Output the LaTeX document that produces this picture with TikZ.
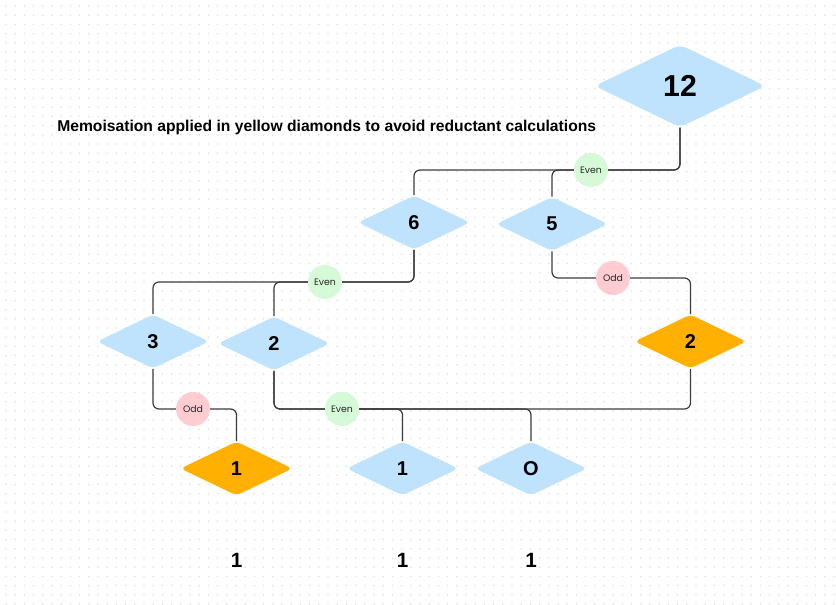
\documentclass[tikz,border=0pt]{standalone}
\usepackage{fontspec}
\setmainfont{Liberation Sans}
\newfontfamily\lblfont{Poppins}
\usetikzlibrary{shapes.geometric}
\definecolor{dbblue}{RGB}{191,227,253}
\definecolor{dborange}{RGB}{255,176,0}
\definecolor{dbgreen}{RGB}{214,250,216}
\definecolor{dbpink}{RGB}{255,204,209}
\definecolor{dbline}{RGB}{60,60,60}
\definecolor{dbdot}{RGB}{224,224,228}
\tikzset{
  dia/.style={diamond, draw=none, inner sep=0pt, rounded corners=4pt,
    minimum width=84pt, minimum height=40.5pt,
    font=\bfseries\fontsize{15}{18}\selectfont},
  bluedia/.style={dia, fill=dbblue},
  orangedia/.style={dia, fill=dborange},
  conn/.style={draw=dbline, line width=0.9pt, rounded corners=4.5pt},
  lbl/.style={circle, minimum size=25.5pt, inner sep=0pt, text=black!85,
    font=\lblfont\fontsize{7}{8}\selectfont},
  evenlbl/.style={lbl, fill=dbgreen},
  oddlbl/.style={lbl, fill=dbpink},
  result/.style={font=\bfseries\fontsize{15.5}{18}\selectfont}
}
\begin{document}
\begin{tikzpicture}[x=0.75pt, y=-0.75pt]
\useasboundingbox (0,0) rectangle (836,605);
\fill[white] (0,0) rectangle (836,605);
\foreach \i in {0,...,90}{
  \foreach \j in {0,...,65}{
    \fill[dbdot] (6+\i*9.2, 6+\j*9.2) circle (0.65pt);
  }
}
% title
\node[anchor=base west, inner sep=0pt, font=\bfseries\fontsize{11.75}{14}\selectfont] (title) at (57,132)
  {Memoisation applied in yellow diamonds to avoid reductant calculations};
% diamonds
\node[bluedia, minimum width=128pt, minimum height=62pt, rounded corners=5pt, font=\bfseries\fontsize{22.7}{26}\selectfont] (n12) at (680,86) {12};
\node[bluedia] (n6) at (414,222.5) {6};
\node[bluedia] (n5) at (552,224) {5};
\node[bluedia] (n3) at (153,341.5) {3};
\node[bluedia] (n2) at (274,343.5) {2};
\node[orangedia] (o2) at (690.5,341.5) {2};
\node[orangedia] (o1) at (236.5,468.5) {1};
\node[bluedia] (b1) at (402.5,468.5) {1};
\node[bluedia] (b0) at (531,468.5) {O};
% label positions
\coordinate (e1) at (591,170);
\coordinate (e2) at (325,282);
\coordinate (d1) at (613,278);
\coordinate (d2) at (193,409);
\coordinate (e3) at (342,409);
% connectors
\draw[conn] (n12.south) |- (e1) -| (n6.north);
\draw[conn] (n12.south) |- (e1) -| (n5.north);
\draw[conn] (n6.south) |- (e2) -| (n3.north);
\draw[conn] (n6.south) |- (e2) -| (n2.north);
\draw[conn] (n5.south) |- (d1) -| (o2.north);
\draw[conn] (n3.south) |- (d2) -| (o1.north);
\draw[conn] (n2.south) |- (e3) -| (b1.north);
\draw[conn] (n2.south) |- (e3) -| (b0.north);
\draw[conn] (o2.south) |- (e3);
% labels
\node[evenlbl] (le1) at (e1) {Even};
\node[evenlbl] (le2) at (e2) {Even};
\node[oddlbl] (ld1) at (d1) {Odd};
\node[oddlbl] (ld2) at (d2) {Odd};
\node[evenlbl] (le3) at (e3) {Even};
% results
\node[result] (r1) at (236.5,560.5) {1};
\node[result] (r2) at (402.5,560.5) {1};
\node[result] (r3) at (531,560.5) {1};
\end{tikzpicture}
\end{document}
